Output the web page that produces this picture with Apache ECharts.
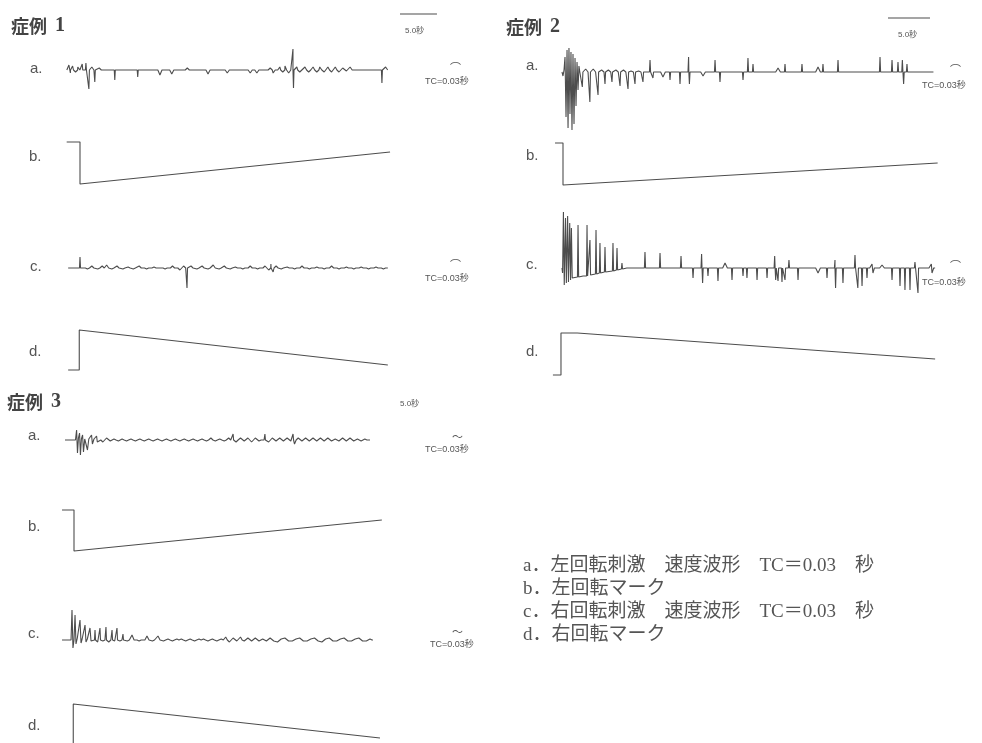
<!DOCTYPE html>
<html><head><meta charset="utf-8">
<script src="https://cdn.jsdelivr.net/npm/echarts@6/dist/echarts.min.js"></script>
<style>html,body{margin:0;padding:0;background:#fff}#c{width:982px;height:743px}</style>
</head><body><div id="c"></div>
<script>
// ---- DATA (time in seconds from rotation onset, amplitude in arbitrary units) ----
// spike events: [time, amplitude]; raw: polyline points [time, value]
const case1A = [[-1.5,5],[-1.3,-3],[-1.0,4],[-0.6,-2],[-0.3,3],[0.3,6],[0.8,7],[1.2,-19],[1.6,3],[2.0,-12],[2.6,2],[4.7,-10],[7.8,-7],[10.8,-5],[12.4,-4],[14.5,2],[17.3,-4],[19.9,-3],[23.0,-3],[23.9,-3],[25.7,2],[26.1,-3],[27.0,3],[27.4,-2],[27.7,4],[28.2,-3],[28.78,21],[28.85,-18],[29.3,3],[29.7,-2],[30.4,3],[30.9,-2],[31.5,3],[32.0,-2],[32.4,3],[33.0,-2],[33.5,3],[34.0,-2],[34.5,3],[35.0,-2],[35.5,2],[36.0,-1],[36.5,3],[40.8,-13],[41.3,3]];
const case1C = [[0.0,11],[1.0,-1],[1.6,2],[2.4,-1],[3.0,2],[3.6,3],[4.3,-1],[5.0,2],[5.8,-1],[6.5,1],[7.2,-1],[8.0,2],[9.0,-1],[10.0,1],[11.5,-1],[12.5,2],[13.5,-2],[14.0,2],[14.46,-20],[15.0,2],[15.8,-1],[16.5,2],[17.3,-1],[18.0,3],[18.8,-1],[19.5,2],[20.3,-1],[21.0,1],[22.0,-1],[23.0,2],[24.0,-1],[25.0,2],[25.5,-2],[25.8,4],[26.1,-4],[26.5,2],[27.2,-1],[28.0,1],[29.0,-1],[30.0,2],[31.0,-1],[32.0,1],[33.0,-1],[34.0,2],[35.0,-1],[36.0,1],[37.0,-1],[38.0,1],[39.0,-1],[40.0,1],[41.0,-1]];
const case1B = [[-1.8,42],[0,42],[0,0],[41.9,32]];
const case1D = [[-1.6,0],[-0.1,0],[-0.1,40],[41.6,5]];

const case2ARaw = [[-0.12,0],[0.0,-4],[0.12,2],[0.24,15],[0.36,-45],[0.48,22],[0.6,-56],[0.71,24],[0.83,-42],[0.95,20],[1.07,-58],[1.19,18],[1.31,-52],[1.43,14],[1.55,-34],[1.67,10],[1.79,-18],[1.9,6],[2.0,0]];
const case2A = [[2.3,-15],[2.7,3],[3.2,-30],[3.6,3],[4.17,-23],[4.6,2],[5.0,-12],[5.4,2],[5.83,-10],[6.3,2],[6.79,-14],[7.2,2],[7.74,-17],[8.1,1],[8.57,-12],[9.0,1],[9.52,-10],[10.36,12],[10.71,-6],[11.9,-5],[12.74,-8],[13.93,-12],[14.95,15],[15.05,-12],[16.67,-4],[18.1,12],[18.69,-10],[21.43,-8],[22.02,14],[22.62,8],[25.6,4],[26.43,8],[28.45,8],[30.36,5],[30.95,8],[32.74,12],[37.74,15],[39.17,12],[39.88,10],[40.4,12],[40.55,-12],[40.95,8]];
const case2CRaw = [[-0.12,0],[-0.05,-5],[0.05,56],[0.15,-17],[0.3,50],[0.4,-15],[0.55,52],[0.65,-14],[0.8,45],[0.9,-12],[1.0,40],[1.1,-10],[1.3,-8],[1.72,-9],[1.79,43],[1.86,-9],[2.4,-8],[2.8,-8],[2.86,43],[2.93,-8],[3.14,-7],[3.21,28],[3.28,-7],[3.86,-6],[3.93,38],[4.0,-6],[4.33,-5],[4.4,25],[4.47,-5],[4.93,-4],[5.0,21],[5.07,-4],[5.88,-3],[5.95,25],[6.02,-3],[6.36,-2],[6.43,20],[6.5,-2],[6.95,-1],[7.02,5],[7.09,-1],[7.6,0]];
const case2C = [[9.76,16],[11.55,15],[14.05,12],[16.5,14],[19.29,5],[25.2,12],[26.9,8],[32.38,8],[34.76,13],[36.79,4],[37.98,3],[41.9,6],[43.85,4],[15.48,-10],[16.62,-15],[17.26,-8],[18.45,-13],[20.12,-12],[21.43,-8],[21.9,-10],[23.1,-12],[24.29,-10],[25.32,-12],[25.6,-13],[26.07,-14],[26.43,-12],[27.98,-12],[30.36,-5],[31.43,-10],[32.45,-20],[33.33,-15],[35.1,-20],[35.6,-18],[36.19,-10],[36.9,-5],[39.17,-12],[40.12,-18],[40.71,-22],[41.31,-22],[42.26,-25],[43.93,-5]];
const case2B = [[-0.95,42],[0,42],[0,0],[44.6,22]];
const case2D = [[-1.2,0],[-0.24,0],[-0.24,42],[1.7,42],[44.3,16]];

const case3ARaw = [[-1.22,0],[0.2,0],[0.35,10],[0.47,-13],[0.6,2],[0.75,7],[0.87,-15],[1.0,1],[1.16,5],[1.28,-12],[1.45,1],[1.7,3],[1.82,-10],[2.0,1],[2.37,5],[2.49,-4],[2.7,1],[3.05,4],[3.15,-2],[3.4,0]];
const case3A = [[3.9,-2],[4.4,2],[4.9,-1],[5.4,1],[6.0,-1],[6.5,1],[7.1,-1],[7.7,1],[8.3,-1],[8.9,1],[9.5,-1],[10.1,1],[10.7,-1],[11.3,1],[11.9,-1],[12.5,1],[13.1,-1],[13.7,1],[14.3,-1],[14.9,1],[15.5,-1],[16.1,1],[16.7,-1],[17.3,1],[17.9,-1],[18.5,2],[19.1,-1],[19.7,1],[20.3,-1],[20.9,2],[21.5,6],[21.9,-2],[22.5,2],[23.0,-1],[23.5,2],[24.0,-2],[24.5,2],[25.0,-1],[25.4,2],[25.8,6],[26.3,-2],[26.8,2],[27.3,-1],[27.8,2],[28.3,-1],[28.8,2],[29.3,-1],[29.6,6],[29.8,-4],[30.3,2],[30.8,-1],[31.3,2],[31.8,-1],[32.3,2],[32.8,-1],[33.3,2],[33.8,-1],[34.3,2],[34.8,-1],[35.3,1],[35.8,-1],[36.3,2],[36.8,-1],[37.3,2],[37.8,-1],[38.3,1],[38.8,-1],[39.3,1]];
const case3CRaw = [[-1.62,0],[-0.4,0],[-0.27,30],[-0.14,-8],[0.0,0],[0.14,25],[0.27,-4],[0.45,2],[0.81,20],[0.95,-3],[1.1,1],[1.49,15],[1.62,-2],[1.8,1],[2.16,12],[2.3,-1],[2.5,1]];
const case3C = [[2.84,10],[3.2,-2],[3.51,12],[3.9,-1],[4.32,13],[4.7,-2],[5.14,10],[5.5,-1],[5.81,12],[6.2,-1],[6.62,6],[7.2,-1],[7.84,5],[8.8,-1],[9.86,4],[10.6,-1],[11.35,4],[12.1,-1],[12.7,1],[13.3,-1],[13.9,1],[14.5,1],[15.1,-1],[15.7,1],[16.3,-1],[16.9,1],[17.5,1],[18.1,-1],[18.7,1],[19.3,-1],[19.9,1],[20.5,3],[21.0,-2],[21.5,2],[22.0,-1],[22.5,3],[23.0,-1],[23.5,2],[24.0,-1],[24.5,2],[25.0,-1],[25.5,1],[26.0,-1],[26.5,2],[27.0,-1],[27.5,-2],[28.0,1],[28.5,2],[29.0,-1],[29.5,-1],[30.0,1],[30.5,2],[31.0,-1],[31.5,-1],[32.0,1],[32.5,2],[33.0,-1],[33.5,-2],[34.0,1],[34.5,2],[35.0,-1],[35.5,-1],[36.0,1],[36.5,2],[37.0,-1],[37.5,-1],[38.0,1],[38.5,2],[39.0,-1],[39.5,-1],[40.0,1]];
const case3B = [[-1.62,41],[0,41],[0,0],[41.6,31]];
const case3D = [[-0.1,0],[-0.1,39],[41.35,5]];

const scaleBar1 = [[43.24,0],[48.24,0]];
const scaleBar2 = [[38.69,0],[43.69,0]];

const caseTitles = ['症例', '症例', '症例'];
const caseNumbers = ['1', '2', '3'];
const rowLabels = ['a.', 'b.', 'c.', 'd.'];
const tcLabel = 'TC=0.03秒';
const scaleLabel = '5.0秒';
const legendLines = ['a．左回転刺激　速度波形　TC＝0.03　秒', 'b．左回転マーク', 'c．右回転刺激　速度波形　TC＝0.03　秒', 'd．右回転マーク'];

// ---- build polyline from spike events ----
function build(events, raw, start, end) {
  const pts = [[start, 0], [end, 0]];
  raw.forEach(p => pts.push([p[0], p[1]]));
  events.forEach(e => {
    const w = Math.abs(e[1]) <= 5 ? 0.28 : 0.07;
    pts.push([e[0] - w, 0], [e[0], e[1]], [e[0] + w, 0]);
  });
  pts.sort((a, b) => a[0] - b[0]);
  return pts;
}

// ---- layout ----
const layout = [
  {stepX: 80, pps: 7.4, tmin: -2, tmax: 48.5, traces: [
    {data: build(case1A, [], -1.6, 41.6), base: 70, vmin: -30, vmax: 30},
    {data: case1B, base: 184, vmin: 0, vmax: 50},
    {data: build(case1C, [], -1.6, 41.6), base: 268, vmin: -30, vmax: 30},
    {data: case1D, base: 370, vmin: 0, vmax: 50},
    {data: scaleBar1, base: 14, vmin: -5, vmax: 5}]},
  {stepX: 563, pps: 8.4, tmin: -2, tmax: 45, traces: [
    {data: build(case2A, case2ARaw, -0.12, 44.1), base: 72, vmin: -62, vmax: 28},
    {data: case2B, base: 185, vmin: 0, vmax: 50},
    {data: build(case2C, case2CRaw, -0.12, 44.3), base: 268, vmin: -30, vmax: 60},
    {data: case2D, base: 375, vmin: 0, vmax: 50},
    {data: scaleBar2, base: 18, vmin: -5, vmax: 5}]},
  {stepX: 74, pps: 7.4, tmin: -2, tmax: 48, traces: [
    {data: build(case3A, case3ARaw, -1.22, 40.0), base: 440, vmin: -30, vmax: 30},
    {data: case3B, base: 551, vmin: 0, vmax: 50},
    {data: build(case3C, case3CRaw, -1.62, 40.4), base: 640, vmin: -20, vmax: 40},
    {data: case3D, base: 743, vmin: 0, vmax: 50}]}
];

const grid = [], xAxis = [], yAxis = [], series = [];
layout.forEach(c => {
  c.traces.forEach(tr => {
    const i = grid.length;
    grid.push({left: c.stepX + c.tmin * c.pps, width: (c.tmax - c.tmin) * c.pps, top: tr.base - tr.vmax, height: tr.vmax - tr.vmin, containLabel: false});
    xAxis.push({type: 'value', gridIndex: i, min: c.tmin, max: c.tmax, show: false});
    yAxis.push({type: 'value', gridIndex: i, min: tr.vmin, max: tr.vmax, show: false});
    series.push({type: 'line', xAxisIndex: i, yAxisIndex: i, data: tr.data, showSymbol: false, symbol: 'none', clip: false,
      lineStyle: {color: '#4d4d4d', width: 1.1}, animation: false, silent: true});
  });
});

const lab = '"Liberation Sans", Arial, sans-serif';
const small = '"Liberation Sans Narrow", "Liberation Sans", "Noto Sans CJK JP", sans-serif';
const graphic = [];
function txt(x, y, text, font, fill, align) {
  graphic.push({type: 'text', x: x, y: y, silent: true, style: {text: text, font: font, fill: fill || '#555', align: align || 'left', verticalAlign: 'middle'}});
}
// titles
[[11, 26], [506, 27], [7, 402]].forEach((p, i) => {
  graphic.push({type: 'text', x: p[0], y: p[1], silent: true, style: {text: '{c|' + caseTitles[i] + '}{n|' + caseNumbers[i] + '}', verticalAlign: 'middle',
    rich: {c: {font: 'bold 18px "Noto Sans CJK JP"', fill: '#444'}, n: {font: 'bold 20px "Liberation Serif"', fill: '#444', padding: [0, 0, 0, 8]}}}});
});
// row labels
const rowPos = [[[30, 69], [29, 157], [30, 267], [29, 352]], [[526, 66], [526, 156], [526, 265], [526, 352]], [[28, 436], [28, 527], [28, 634], [28, 726]]];
rowPos.forEach(rows => rows.forEach((p, j) => txt(p[0], p[1], rowLabels[j], '15px ' + lab, '#555')));
// TC labels and symbols
[[425, 82, 450, 68, '⌒'], [425, 279, 450, 265, '⌒'], [922, 86, 950, 70, '⌒'], [922, 283, 950, 266, '⌒'], [425, 450, 452, 437, '〜'], [430, 645, 452, 632, '〜']].forEach(p => {
  txt(p[0], p[1], tcLabel, '9px ' + small, '#555');
  txt(p[2], p[3], p[4], '11px "Noto Sans CJK JP"', '#555');
});
// scale labels
[[405, 31], [898, 35], [400, 404]].forEach(p => txt(p[0], p[1], scaleLabel, '8px ' + small, '#555'));
// legend
[566, 589, 612, 635].forEach((y, i) => txt(523, y, legendLines[i], '19px "Liberation Serif", "Noto Sans CJK JP"', '#555'));

const chart = echarts.init(document.getElementById('c'), null, {renderer: 'canvas'});
chart.setOption({backgroundColor: '#ffffff', animation: false, grid, xAxis, yAxis, series, graphic});
</script></body></html>
